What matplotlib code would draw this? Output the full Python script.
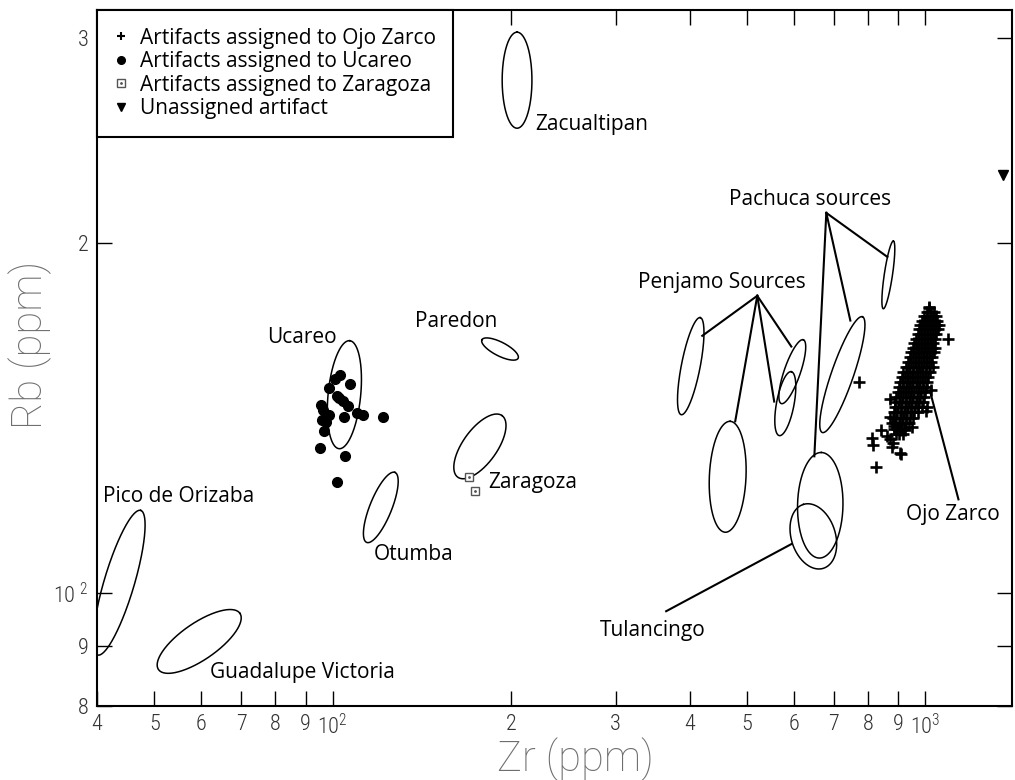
import numpy as np
import matplotlib
matplotlib.use("Agg")
import matplotlib.pyplot as plt
from matplotlib.lines import Line2D
from matplotlib.legend_handler import HandlerTuple
from matplotlib.ticker import NullLocator

plt.rcParams.update({
    "font.family": ["Open Sans", "DejaVu Sans"],
    "mathtext.fontset": "custom",
    "mathtext.rm": "Roboto Condensed:light",
    "axes.linewidth": 1.5,
})
TICKFONT = ["Roboto Condensed", "Roboto", "DejaVu Sans"]
GREY = "#333333"

# source ellipses: centre (Zr, Rb), end of long axis (Zr, Rb), short/long axis ratio
ell_names = ["Zacualtipan", "Pachuca small", "Penjamo 1", "Penjamo 2", "Penjamo 3",
             "Penjamo 4", "Pachuca mid", "Pachuca low", "Tulancingo", "Ucareo",
             "Paredon", "Zaragoza", "Otumba", "Pico de Orizaba", "Guadalupe Victoria"]
ell_cx = [204.6, 865.9, 401.8, 463.8, 596.2, 580.2, 724.2, 664.6, 647.0, 104.6,
          191.5, 177.1, 120.5, 43.6, 59.5]
ell_cy = [275.9, 187.7, 156.7, 125.9, 155.0, 145.5, 154.1, 119.0, 111.9, 148.1,
          162.1, 133.7, 118.5, 102.1, 90.9]
ell_tx = [204.6, 883.0, 416.9, 468.3, 622.3, 593.9, 782.9, 667.3, 622.3, 106.8,
          178.5, 193.0, 127.3, 47.4, 69.7]
ell_ty = [303.4, 200.7, 172.5, 140.5, 165.1, 155.0, 172.8, 132.1, 119.2, 164.8,
          165.1, 142.1, 127.0, 117.8, 96.1]
ell_ratio = [0.31, 0.12, 0.19, 0.33, 0.24, 0.27, 0.18, 0.43, 0.66, 0.30,
             0.34, 0.45, 0.29, 0.20, 0.37]

# artifacts
ucareo_zr = [102.8, 100.8, 106.8, 98.5, 101.6, 102.4, 104.0, 106.0, 95.4, 96.2, 98.5,
             104.4, 109.8, 112.4, 121.5, 95.8, 97.3, 96.6, 95.1, 104.8, 101.6]
ucareo_rb = [154.1, 152.9, 151.4, 150.2, 147.6, 147.0, 146.4, 144.7, 145.0, 143.8, 142.4,
             141.8, 142.7, 142.4, 141.6, 141.0, 140.2, 137.7, 133.4, 131.3, 124.5]
zaragoza_zr = [169.7, 173.8]
zaragoza_rb = [125.8, 122.3]
unassigned_zr = [1354]
unassigned_rb = [228.8]

# Ojo Zarco: dense core read row by row (Rb level, Zr values), then the stragglers
ojo_rb_levels = [176.0, 174.5, 173.0, 171.5, 170.0, 168.5, 167.0, 165.5, 164.0, 162.5,
                 161.0, 159.5, 158.0, 156.5, 155.0, 153.5, 152.0, 150.5, 149.0, 147.5,
                 146.0, 144.5, 143.0, 141.5, 140.0, 138.5, 137.0]
ojo_zr_rows = [
    [1016],
    [1008, 1021, 1033],
    [995, 1007, 1019, 1031, 1042],
    [986, 999, 1012, 1024, 1036, 1048],
    [981, 993, 1005, 1017, 1029, 1041, 1054],
    [976, 988, 1000, 1012, 1024, 1036, 1049],
    [970, 982, 994, 1006, 1018, 1030, 1043],
    [963, 975, 987, 999, 1011, 1023, 1036],
    [958, 970, 982, 994, 1006, 1018, 1031],
    [952, 964, 976, 988, 1000, 1012, 1025, 1038],
    [946, 958, 970, 982, 994, 1006, 1019, 1032],
    [941, 953, 965, 977, 989, 1001, 1014, 1027],
    [935, 947, 959, 971, 983, 995, 1008, 1021],
    [928, 940, 952, 964, 976, 988, 1001, 1015, 1030],
    [918, 930, 942, 954, 966, 978, 991, 1004, 1018],
    [912, 924, 936, 948, 960, 972, 985, 998, 1012],
    [906, 918, 930, 942, 954, 966, 979, 992, 1006],
    [903, 915, 927, 939, 951, 963, 976, 989, 1003],
    [898, 910, 922, 934, 946, 958, 971, 984, 998],
    [893, 905, 917, 929, 941, 953, 966, 979, 993],
    [890, 902, 914, 926, 938, 950, 963, 976, 990],
    [887, 899, 911, 923, 935, 947, 960, 973, 988, 1005],
    [884, 896, 908, 920, 932, 944, 957, 970],
    [881, 893, 905, 917, 929, 941, 954],
    [878, 890, 902, 914, 926, 938],
    [885, 897, 909, 921],
    [892, 904, 916],
]
ojo_extra_zr = [1016, 1092, 772, 824, 813, 816, 840, 873, 882, 879, 908, 873, 870,
                884, 908, 925, 950, 1004, 1020, 862, 905]
ojo_extra_rb = [175.8, 165.3, 151.9, 128.3, 136.0, 134.2, 138.2, 135.8, 134.7, 133.5,
                131.6, 146.7, 141.6, 139.1, 138.2, 138.2, 138.9, 143.3, 149.6, 136.4, 132.0]

# labels (left edge, vertical centre)
labels = ["Zacualtipan", "Pachuca sources", "Penjamo Sources", "Paredon", "Ucareo",
          "Pico de Orizaba", "Zaragoza", "Otumba", "Guadalupe Victoria", "Tulancingo",
          "Ojo Zarco"]
label_zr = [219.4, 466.7, 327.5, 137.5, 77.6, 40.9, 182.7, 117.3, 62.0, 282.5, 928.8]
label_rb = [252.5, 217.7, 184.8, 171.1, 165.8, 121.1, 124.5, 108.0, 85.5, 92.8, 116.9]

# leader lines: (start, end) in (Zr, Rb)
leaders = [
    ((680.4, 212.2), (862.7, 194.5)),
    ((680.4, 212.2), (747.0, 171.5)),
    ((680.4, 212.2), (649.5, 131.1)),
    ((520.3, 180.1), (420.2, 166.4)),
    ((520.3, 180.1), (477.6, 140.5)),
    ((520.3, 180.1), (555.7, 146.1)),
    ((520.3, 180.1), (593.9, 162.9)),
    ((365.2, 96.5), (593.9, 110.2)),
    ((1019.6, 148.7), (1137.0, 120.4)),
]

xticks = [40, 50, 60, 70, 80, 90, 100, 200, 300, 400, 500, 600, 700, 800, 900, 1000]
xticklabels = ["4", "5", "6", "7", "8", "9", "$10^{2}$", "2", "3", "4", "5", "6", "7",
               "8", "9", "$10^{3}$"]
yticks = [80, 90, 100, 200, 300]
yticklabels = ["8", "9", "$10^{\\ 2}$", "2", "3"]


def draw_ellipse(ax, centre, tip, ratio):
    # build the ellipse in pixel space so it looks like the printed one on log axes
    tr = ax.transData
    cx, cy = tr.transform(centre)
    tx, ty = tr.transform(tip)
    ux, uy = tx - cx, ty - cy
    vx, vy = -uy * ratio, ux * ratio
    t = np.linspace(0, 2 * np.pi, 240)
    px = cx + ux * np.cos(t) + vx * np.sin(t)
    py = cy + uy * np.cos(t) + vy * np.sin(t)
    pts = tr.inverted().transform(np.column_stack([px, py]))
    ax.plot(pts[:, 0], pts[:, 1], color="k", lw=1.1)


fig = plt.figure(figsize=(10.15, 7.8), dpi=100)
ax = fig.add_axes([97 / 1015, 1 - 706 / 780, 915 / 1015, 696 / 780])
ax.set_xscale("log")
ax.set_yscale("log")
ax.set_xlim(40, 1400)
ax.set_ylim(80, 317)

ax.set_xticks(xticks, xticklabels)
ax.set_yticks(yticks, yticklabels)
ax.xaxis.set_minor_locator(NullLocator())
ax.yaxis.set_minor_locator(NullLocator())
ax.tick_params(direction="in", top=True, right=True, length=11, width=1.0,
               labelsize=16, labelcolor=GREY, pad=6)
for lab in ax.get_xticklabels() + ax.get_yticklabels():
    lab.set_family(TICKFONT)
    lab.set_weight("light")

for i in range(len(ell_cx)):
    draw_ellipse(ax, (ell_cx[i], ell_cy[i]), (ell_tx[i], ell_ty[i]), ell_ratio[i])

for (x0, y0), (x1, y1) in leaders:
    ax.plot([x0, x1], [y0, y1], color="k", lw=1.5)

ojo_zr = [z for row in ojo_zr_rows for z in row] + ojo_extra_zr
ojo_rb = [rb for rb, row in zip(ojo_rb_levels, ojo_zr_rows) for _ in row] + ojo_extra_rb
ax.plot(ojo_zr, ojo_rb, ls="", marker="+", ms=8.5, mew=1.9, color="k")
ax.plot(ucareo_zr, ucareo_rb, ls="", marker="o", ms=7, color="k")
ax.plot(zaragoza_zr, zaragoza_rb, ls="", marker="s", ms=6, mfc="white", mec="#555555", mew=1.0)
ax.plot(zaragoza_zr, zaragoza_rb, ls="", marker=".", ms=2, color="#555555")
ax.plot(unassigned_zr, unassigned_rb, ls="", marker="v", ms=7, color="k")

for txt, x, y in zip(labels, label_zr, label_rb):
    ax.text(x, y, txt, fontsize=15, ha="left", va="center", color="k")

h_plus = Line2D([], [], ls="", marker="+", ms=6, mew=1.5, color="k")
h_dot = Line2D([], [], ls="", marker="o", ms=5.5, color="k")
h_sq = Line2D([], [], ls="", marker="s", ms=5.5, mfc="white", mec="#555555", mew=1.0)
h_sqdot = Line2D([], [], ls="", marker=".", ms=2, color="#555555")
h_tri = Line2D([], [], ls="", marker="v", ms=5.5, color="k")
leg = ax.legend([h_plus, h_dot, (h_sq, h_sqdot), h_tri],
                ["Artifacts assigned to Ojo Zarco", "Artifacts assigned to Ucareo",
                 "Artifacts assigned to Zaragoza", "Unassigned artifact"],
                handler_map={tuple: HandlerTuple(ndivide=1, pad=0)},
                loc="upper left", bbox_to_anchor=(0, 1), borderaxespad=0,
                fontsize=15, handlelength=0.6, handletextpad=0.6, labelspacing=0.12,
                borderpad=0.85, fancybox=False, framealpha=1, edgecolor="k")
leg.get_frame().set_linewidth(1.5)

fig.text(575 / 1015, 1 - 759 / 780, "Zr (ppm)", ha="center", va="center", fontsize=30,
         color="#6e6e6e", family=["Roboto", "DejaVu Sans"], weight="light")
fig.text(30 / 1015, 1 - 345 / 780, "Rb (ppm)", ha="center", va="center", fontsize=30,
         rotation=90, color="#6e6e6e", family=["Roboto", "DejaVu Sans"], weight="light")

fig.savefig("out.png", dpi=100)
